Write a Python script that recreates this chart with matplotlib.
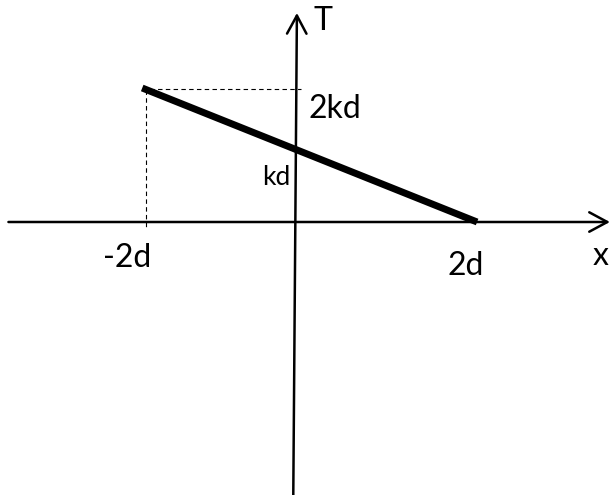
import matplotlib
matplotlib.use("Agg")
import matplotlib.pyplot as plt

# Values (x in units of d, T in units of kd)
line_x = [-1.69, 1.99]
line_T = [2.0, 0.0]

guide_h_x = [-1.69, 0.06]
guide_h_T = [1.98, 1.98]
guide_v_x = [-1.65, -1.65]
guide_v_T = [1.97, -0.09]

xaxis_x = [-3.16, 3.45]
xaxis_T = [0.0, 0.0]
yaxis_x = [-0.03, 0.01]
yaxis_T = [-4.1, 3.12]

labels = ["T", "2kd", "kd", "-2d", "2d", "x"]
label_x = [0.297, 0.429, -0.22, -1.857, 1.868, 3.352]
label_T = [3.0, 1.687, 0.657, -0.537, -0.657, -0.507]
label_size = [23, 23, 19, 23, 23, 23]

fig = plt.figure(figsize=(6.1, 4.95), dpi=100)
ax = fig.add_axes([0, 0, 1, 1])
ax.set_xlim(-296 / 91, 314 / 91)
ax.set_ylim((222 - 495) / 67, 222 / 67)
ax.axis("off")

arrow_kw = dict(arrowstyle="->,head_length=1.3,head_width=0.7", lw=1.8,
                color="black", shrinkA=0, shrinkB=0, mutation_scale=10)
ax.annotate("", xy=(xaxis_x[1], xaxis_T[1]), xytext=(xaxis_x[0], xaxis_T[0]),
            arrowprops=arrow_kw)
ax.annotate("", xy=(yaxis_x[1], yaxis_T[1]), xytext=(yaxis_x[0], yaxis_T[0]),
            arrowprops=arrow_kw)

ax.plot(guide_h_x, guide_h_T, color="black", lw=0.8, ls=(0, (4, 3)))
ax.plot(guide_v_x, guide_v_T, color="black", lw=0.8, ls=(0, (4, 3)))

ax.plot(line_x, line_T, color="black", lw=5, solid_capstyle="butt")

for s, x, t, fs in zip(labels, label_x, label_T, label_size):
    ax.text(x, t, s, fontsize=fs, family="Lato", ha="center", va="center")

fig.savefig("out.png", dpi=100)
